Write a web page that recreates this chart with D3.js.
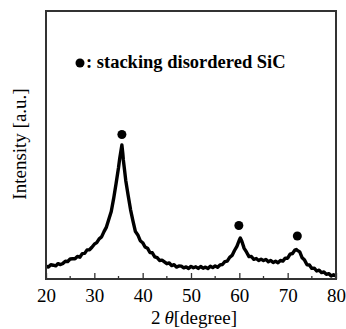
<!DOCTYPE html>
<html>
<head>
<meta charset="utf-8">
<script src="https://cdn.jsdelivr.net/npm/d3@7"></script>
<style>
  body { margin: 0; background: #fff; }
  svg text { font-family: "Liberation Serif", "Times New Roman", Times, serif; fill: #000; }
</style>
</head>
<body>
<div id="chart"></div>
<script>
// XRD pattern (arbitrary intensity units)
var twoTheta = [20, 20.5, 21, 21.5, 22, 22.5, 23, 23.5, 24, 24.5, 25, 25.5, 26, 26.5, 27, 27.5,
  28, 28.5, 29, 29.5, 30, 30.5, 31, 31.5, 32, 32.5, 33, 33.5, 34, 34.5, 35, 35.25, 35.5, 35.7,
  35.9, 36, 36.25, 36.5, 37, 37.5, 38, 38.5, 39, 39.5, 40, 40.5, 41, 41.5, 42, 42.5, 43, 43.5,
  44, 44.5, 45, 45.5, 46, 46.5, 47, 47.5, 48, 48.5, 49, 49.5, 50, 50.5, 51, 51.5, 52, 52.5, 53,
  53.5, 54, 54.5, 55, 55.5, 56, 56.5, 57, 57.5, 58, 58.5, 59, 59.5, 60, 60.2, 60.5, 61, 61.5,
  62, 62.5, 63, 63.5, 64, 64.5, 65, 65.5, 66, 66.5, 67, 67.5, 68, 68.5, 69, 69.5, 70, 70.5, 71,
  71.5, 71.8, 72, 72.5, 73, 73.5, 74, 74.5, 75, 75.5, 76, 76.5, 77, 77.5, 78, 78.5, 79, 79.5, 80];
var intensity = [128, 119, 142, 138, 131, 154, 144, 156, 177, 175, 200, 202, 202, 226, 218, 254,
  256, 291, 293, 318, 348, 364, 402, 421, 474, 519, 597, 675, 806, 956, 1113, 1205, 1280, 1340,
  1250, 1190, 1090, 986, 836, 692, 579, 474, 441, 383, 363, 320, 308, 265, 262, 222, 214, 185,
  189, 172, 153, 160, 134, 143, 119, 130, 129, 112, 121, 105, 126, 112, 122, 106, 125, 108, 119,
  105, 128, 114, 131, 118, 141, 145, 174, 179, 217, 236, 285, 327, 390, 410, 380, 306, 268,
  224, 225, 197, 205, 185, 199, 184, 196, 172, 186, 164, 178, 163, 185, 179, 209, 208, 248, 255,
  289, 295, 286, 271, 212, 189, 143, 140, 106, 108, 80, 89, 64, 70, 47, 54, 31, 42, 30];

// peak markers (stacking disordered SiC)
var markerTheta = [35.7, 59.9, 72.0];
var markerIntensity = [1445, 535, 430];

var xTicks = [20, 30, 40, 50, 60, 70, 80];
var xMinorTicks = [25, 35, 45, 55, 65, 75];

var W = 346, H = 329;
var margin = { left: 46, right: 10, top: 11, bottom: 50 };
var FONT = '"Liberation Serif", "Times New Roman", Times, serif';

var svg = d3.select("#chart").append("svg").attr("width", W).attr("height", H);

var x = d3.scaleLinear().domain([20, 80]).range([margin.left, W - margin.right]);
var y = d3.scaleLinear().domain([0, 2680]).range([H - margin.bottom, margin.top]);

var pts = twoTheta.map(function(t, i) { return [t, intensity[i]]; });

// curve (noisy band)
var line = d3.line().x(function(d) { return x(d[0]); }).y(function(d) { return y(d[1]); });
svg.append("path").datum(pts)
  .attr("d", line)
  .attr("fill", "none")
  .attr("stroke", "#000")
  .attr("stroke-width", 3.4)
  .attr("stroke-linejoin", "round");

// markers
svg.selectAll("circle.pk").data(markerTheta).enter().append("circle")
  .attr("class", "pk")
  .attr("cx", function(d) { return x(d); })
  .attr("cy", function(d, i) { return y(markerIntensity[i]); })
  .attr("r", 4.5)
  .attr("fill", "#000");

// frame
svg.append("rect")
  .attr("x", x(20)).attr("y", y(2680))
  .attr("width", x(80) - x(20)).attr("height", y(0) - y(2680))
  .attr("fill", "none").attr("stroke", "#333").attr("stroke-width", 2);

// bottom axis, ticks inward
var xAxis = d3.axisBottom(x).tickValues(xTicks).tickSize(-6).tickPadding(10).tickFormat(d3.format("d"));
var gx = svg.append("g").attr("transform", "translate(0," + y(0) + ")").call(xAxis)
  .attr("font-family", FONT).attr("font-size", 19);
gx.select(".domain").remove();
gx.selectAll(".tick line").attr("stroke", "#333").attr("stroke-width", 1.3);
gx.selectAll(".tick text").attr("fill", "#000");

svg.append("g").selectAll("line").data(xMinorTicks).enter().append("line")
  .attr("x1", function(d) { return x(d); }).attr("x2", function(d) { return x(d); })
  .attr("y1", y(0)).attr("y2", y(0) - 3)
  .attr("stroke", "#333").attr("stroke-width", 1.3);

// axis titles
var xt = svg.append("text")
  .attr("x", 194).attr("y", 324)
  .attr("text-anchor", "middle")
  .attr("font-family", FONT)
  .attr("font-size", 19);
xt.append("tspan").text("2");
xt.append("tspan").attr("dx", 4).attr("font-style", "italic").text("θ");
xt.append("tspan").text("[degree]");

svg.append("text")
  .attr("transform", "translate(26,144) rotate(-90)")
  .attr("text-anchor", "middle")
  .attr("font-family", FONT)
  .attr("font-size", 19)
  .text("Intensity [a.u.]");

// legend
svg.append("circle").attr("cx", 80).attr("cy", 63).attr("r", 4.5).attr("fill", "#000");
svg.append("text")
  .attr("x", 86).attr("y", 68)
  .attr("font-family", FONT)
  .attr("font-size", 18.5)
  .attr("font-weight", "bold")
  .text(": stacking disordered SiC");
</script>
</body>
</html>
